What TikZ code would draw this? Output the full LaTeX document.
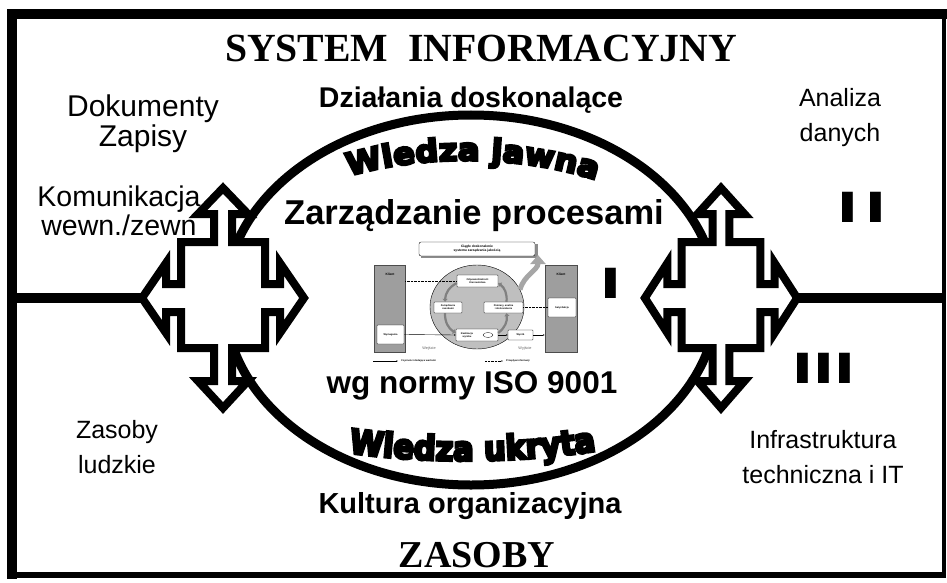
\documentclass[tikz,border=0pt]{standalone}
\usepackage{fontspec}
\setmainfont{Liberation Serif}
\newfontfamily\arial{Liberation Sans}
\newfontfamily\heavywide[FakeBold=8,FakeStretch=1.04]{DejaVu Sans Bold}
\newfontfamily\heavynarrow[FakeBold=8,FakeStretch=0.9]{DejaVu Sans Bold}
\usetikzlibrary{decorations.text,arrows.meta,shapes.geometric}
\tikzset{
  bigtitle/.style={font=\fontsize{38}{40}\selectfont\bfseries,inner sep=0pt},
  sidetext/.style={font=\arial\fontsize{25}{35}\selectfont,align=center,inner sep=0pt},
  bigside/.style={font=\arial\fontsize{#1}{#1}\selectfont,align=center,inner sep=0pt},
  boldtext/.style={font=\arial\bfseries\fontsize{#1}{#1}\selectfont,inner sep=0pt},
  roman/.style={font=\arial\bfseries\fontsize{44}{44}\selectfont,inner sep=0pt},
  quadarrow/.pic={
    \draw[line width=8pt,fill=white,miter limit=10]
      (0,110) -- (25,84) -- (9,84) -- (9,56) -- (42,56) -- (42,14) -- (57,14)
      -- (57,35) -- (81,0) -- (57,-35) -- (57,-14) -- (42,-14) -- (42,-50)
      -- (9,-50) -- (9,-83) -- (25,-83) -- (0,-110) -- (-25,-83) -- (-9,-83)
      -- (-9,-50) -- (-42,-50) -- (-42,-14) -- (-57,-14) -- (-57,-35) -- (-81,0)
      -- (-57,35) -- (-57,14) -- (-42,14) -- (-42,56) -- (-9,56) -- (-9,84)
      -- (-25,84) -- cycle;
  },
  mini/.style={font=\arial\bfseries\fontsize{2.5}{2.9}\selectfont,align=center,inner sep=0pt},
  minibox/.style={mini,draw,line width=0.35pt,fill=white,rounded corners=0.6pt},
  column/.style={draw=gray!60!black,line width=0.4pt,fill=black!38,inner sep=0pt},
  cyc/.style={draw=black!50,line width=2.2pt,-{Triangle[length=3pt,width=5pt]}},
  bigarr/.style={draw=black!35,line width=5pt,-{Triangle[length=9pt,width=15pt]}},
  solidarr/.style={line width=0.4pt,-{Latex[length=1.6pt,width=1.4pt]}},
  dashline/.style={line width=0.35pt,dash pattern=on 0.8pt off 0.6pt}
}
\begin{document}
\begin{tikzpicture}[x=1pt,y=1pt]
\useasboundingbox (0,0) rectangle (947,-583);
% frame
\fill (7,-9) rectangle (947,-19);
\fill (7,-9) rectangle (17,-579);
\fill (7,-572) rectangle (946,-578);
\fill (942,-9) rectangle (946,-578);
% horizontal lines
\coordinate (lframe) at (12,-298);
\coordinate (ltip) at (150,-298);
\coordinate (rtip) at (790,-298);
\coordinate (rframe) at (944,-298);
\draw[line width=10pt] (lframe) -- (ltip);
\draw[line width=10pt] (rtip) -- (rframe);
% ellipse
\draw[line width=9pt] (471,-300) ellipse (246 and 185);
% crosses
\pic at (223,-298) {quadarrow};
\pic[xscale=0.94] at (721,-298) {quadarrow};
% titles
\node[bigtitle,anchor=base] (title) at (481,-62) {\scalebox{1.045}[1.05]{SYSTEM\ \ INFORMACYJNY}};
\node[bigtitle] (zasoby) at (477,-555) {ZASOBY};
% bold texts
\node[boldtext=28.5] (dz) at (471,-100) {Działania doskonalące};
\node[boldtext=34.5] (zp) at (474,-216) {Zarządzanie procesami};
\node[boldtext=31.5] (wg) at (472,-386) {wg normy ISO 9001};
\node[boldtext=29] (ku) at (470,-506) {Kultura organizacyjna};
% side texts
\node[bigside=30] (dok) at (143,-124) {Dokumenty\\Zapisy};
\node[bigside=28.5] (kom) at (119,-211) {Komunikacja\\wewn./zewn};
\node[sidetext] (ana) at (840,-118) {Analiza\\danych};
\node[sidetext] (zl) at (117,-447) {Zasoby\\ludzkie};
\node[sidetext] (inf) at (823,-457) {Infrastruktura\\techniczna i IT};
% roman numerals
\node[roman] (r1) at (611,-283) {\scalebox{1.7}[1]{I}};
\node[roman] (r2) at (862,-207) {\scalebox{1.7}[1]{I\kern4pt I}};
\node[roman] (r3) at (824,-368) {\scalebox{1.7}[1]{III}};
% curved texts
\coordinate (wj1) at (343,-178);
\coordinate (wj2) at (420,-154);
\coordinate (wj3) at (520,-154);
\coordinate (wj4) at (602,-182);
\path[decorate,decoration={text along path,text align=center,
  text={|\heavywide\fontsize{31}{33}\selectfont|Wiedza jawna}}]
  (wj1) .. controls (wj2) and (wj3) .. (wj4);
\coordinate (wu1) at (343,-452);
\coordinate (wu2) at (420,-464);
\coordinate (wu3) at (520,-464);
\coordinate (wu4) at (602,-450);
\path[decorate,decoration={text along path,text align=center,
  text={|\heavynarrow\fontsize{34}{36}\selectfont|Wiedza ukryta}}]
  (wu1) .. controls (wu2) and (wu3) .. (wu4);
% ---- small ISO diagram ----
\node[column,minimum width=31pt,minimum height=87pt] (lcol) at (389.5,-308.5) {};
\node[column,minimum width=32pt,minimum height=87pt] (rcol) at (561,-308.5) {};
\node[mini,font=\arial\bfseries\fontsize{3.2}{3.6}\selectfont] (lkl) at (390,-274) {Klient};
\node[mini,font=\arial\bfseries\fontsize{3.2}{3.6}\selectfont] (rkl) at (561,-274) {Klient};
\node[draw,ellipse,line width=0.4pt,fill=black!25,minimum width=94pt,minimum height=84pt,inner sep=0pt] (circ) at (477,-307) {};
\fill[black!45] (421,-244) rectangle (537.5,-258);
\node[minibox,font=\arial\bfseries\fontsize{3.3}{3.8}\selectfont,minimum width=116pt,minimum height=14pt,rounded corners=2pt] (ciag) at (477,-249) {Ciągłe doskonalenie\\systemu zarządzania jakością};
\node[minibox,minimum width=41pt,minimum height=12pt] (odp) at (477.5,-281) {Odpowiedzialność\\Kierownictwa};
\node[minibox,minimum width=28pt,minimum height=11pt] (zas) at (448,-307.5) {Zarządzanie\\zasobami};
\node[minibox,minimum width=39pt,minimum height=11pt] (pom) at (503.5,-307.5) {Pomiary, analiza\\i doskonalenie};
\node[minibox,minimum width=42pt,minimum height=12pt] (real) at (477,-335) {};
\node[mini] (realt) at (467,-335) {Realizacja\\wyrobu};
\node[draw,ellipse,fill=white,line width=0.3pt,minimum width=10pt,minimum height=5pt,inner sep=0pt] (icon) at (488,-335) {};
\node[minibox,minimum width=25pt,minimum height=10pt] (wyr) at (520.5,-335) {Wyrób};
\node[minibox,minimum width=27pt,minimum height=19pt] (wym) at (390.5,-334.5) {Wymagania};
\node[minibox,minimum width=28pt,minimum height=19pt] (sat) at (562,-307.5) {Satysfakcja};
% cycle arrows
\draw[cyc] ([yshift=-2pt]odp.west) to[bend right=30] ([xshift=-3pt]zas.north);
\draw[cyc] ([xshift=-3pt]zas.south) to[bend right=30] ([yshift=2pt]real.west);
\draw[cyc] ([yshift=2pt]real.east) to[bend right=30] ([xshift=3pt]pom.south);
\draw[cyc] ([xshift=3pt]pom.north) to[bend right=30] ([yshift=-2pt]odp.east);
\coordinate (bigtip) at (538,-255);
\draw[bigarr] (circ.22) to[out=75,in=-90] (bigtip);
% flows
\draw[solidarr] (wym.east) -- (real.west);
\draw[solidarr] (real.east) -- (wyr.west);
\draw[solidarr] (wyr.east) -- (rcol.west |- wyr.east);
\draw[dashline] (lcol.east |- odp.west) -- (odp.west);
\draw[dashline] (pom.east) -- (sat.west);
\node[font=\arial\fontsize{3.8}{4}\selectfont,text=black!60,inner sep=0pt] (wej) at (429,-348) {Wejście};
\node[font=\arial\fontsize{3.8}{4}\selectfont,text=black!60,inner sep=0pt] (wyj) at (525,-348) {Wyjście};
% legend
\coordinate (lg1) at (373,-361);
\coordinate (lg2) at (398,-361);
\coordinate (lg3) at (485,-361);
\coordinate (lg4) at (503,-361);
\draw[solidarr] (lg1) -- (lg2);
\draw[dashline,-{Latex[length=1.6pt,width=1.4pt]}] (lg3) -- (lg4);
\node[mini,anchor=west] (lgt1) at (401,-361.3) {Czynności dodające wartości};
\node[mini,anchor=west] (lgt2) at (506,-361.3) {Przepływ informacji};
\end{tikzpicture}
\end{document}
